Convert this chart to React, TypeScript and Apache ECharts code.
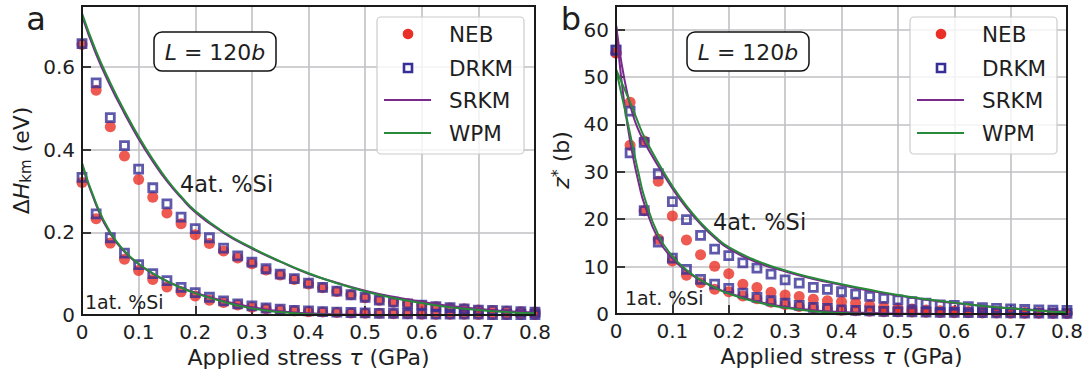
import React, { useEffect, useRef } from "react";
import * as echarts from "echarts";

// ---------- data ----------
const tau = [0, 0.025, 0.05, 0.075, 0.1, 0.125, 0.15, 0.175, 0.2, 0.225, 0.25, 0.275, 0.3, 0.325, 0.35, 0.375, 0.4,
  0.425, 0.45, 0.475, 0.5, 0.525, 0.55, 0.575, 0.6, 0.625, 0.65, 0.675, 0.7, 0.725, 0.75, 0.775, 0.8];

// panel a : ΔH_km (eV)
const nebA4 = [0.655, 0.544, 0.456, 0.385, 0.328, 0.285, 0.247, 0.221, 0.194, 0.173, 0.155, 0.138, 0.124, 0.109, 0.097, 0.086, 0.075,
  0.066, 0.057, 0.049, 0.042, 0.036, 0.031, 0.027, 0.023, 0.02, 0.017, 0.015, 0.012, 0.011, 0.009, 0.008, 0.007];
const drkmA4 = [0.657, 0.562, 0.478, 0.41, 0.353, 0.308, 0.269, 0.237, 0.209, 0.187, 0.162, 0.143, 0.128, 0.112, 0.099, 0.088, 0.077,
  0.067, 0.058, 0.049, 0.043, 0.036, 0.031, 0.027, 0.024, 0.02, 0.018, 0.015, 0.012, 0.011, 0.01, 0.008, 0.007];
const nebA1 = [0.321, 0.233, 0.174, 0.135, 0.108, 0.086, 0.068, 0.056, 0.046, 0.036, 0.03, 0.024, 0.019, 0.015, 0.012, 0.01, 0.008,
  0.007, 0.006, 0.005, 0.004, 0.004, 0.003, 0.003, 0.002, 0.002, 0.002, 0.002, 0.001, 0.001, 0.001, 0.001, 0.001];
const drkmA1 = [0.333, 0.245, 0.187, 0.15, 0.122, 0.1, 0.083, 0.067, 0.054, 0.043, 0.034, 0.027, 0.022, 0.017, 0.014, 0.011, 0.01,
  0.008, 0.007, 0.006, 0.005, 0.004, 0.004, 0.003, 0.003, 0.002, 0.002, 0.002, 0.002, 0.001, 0.001, 0.001, 0.001];

const tauLineA = [0, 0.025, 0.05, 0.075, 0.1, 0.125, 0.15, 0.175, 0.2, 0.25, 0.3, 0.35, 0.4, 0.45, 0.5, 0.55, 0.6, 0.65, 0.7, 0.75, 0.8];
const wpmA4 = [0.73, 0.638, 0.562, 0.494, 0.432, 0.377, 0.328, 0.287, 0.252, 0.201, 0.163, 0.13, 0.101, 0.077, 0.057, 0.041, 0.029, 0.019, 0.012, 0.007, 0.004];
const srkmA4 = [0.724, 0.631, 0.555, 0.488, 0.426, 0.372, 0.324, 0.284, 0.249, 0.199, 0.161, 0.129, 0.1, 0.078, 0.059, 0.044, 0.032, 0.022, 0.015, 0.009, 0.006];
const wpmA1 = [0.368, 0.27, 0.2, 0.155, 0.124, 0.101, 0.082, 0.066, 0.053, 0.032, 0.016, 0.007, 0.002, 0.0005, 0, 0, 0, 0, 0, 0, 0];
const srkmA1 = [0.365, 0.266, 0.197, 0.153, 0.123, 0.1, 0.082, 0.067, 0.054, 0.034, 0.019, 0.009, 0.004, 0.0015, 0.0005, 0, 0, 0, 0, 0, 0];

// panel b : z* (b)
const nebB4 = [55.1, 44.7, 36.5, 28.0, 20.7, 15.6, 12.5, 10.1, 8.5, 6.3, 5.6, 4.6, 4.0, 3.7, 3.1, 2.8, 2.6,
  2.3, 1.8, 1.5, 1.2, 1.06, 0.85, 0.7, 0.65, 0.55, 0.45, 0.4, 0.35, 0.3, 0.25, 0.22, 0.2];
const drkmB4 = [55.7, 42.8, 36.2, 29.6, 23.7, 19.9, 16.6, 13.7, 12.3, 10.8, 9.7, 8.4, 7.2, 6.5, 5.6, 5.2, 4.7,
  4.2, 3.7, 3.3, 3.0, 2.6, 2.3, 1.9, 1.8, 1.55, 1.35, 1.2, 1.05, 0.95, 0.85, 0.8, 0.75];
const nebB1 = [55.1, 35.6, 21.8, 15.8, 11.2, 8.2, 6.6, 5.2, 4.7, 3.8, 3.2, 2.5, 2.0, 1.6, 1.3, 1.1, 0.8,
  0.7, 0.6, 0.5, 0.45, 0.4, 0.35, 0.3, 0.28, 0.25, 0.22, 0.2, 0.18, 0.16, 0.15, 0.14, 0.13];
const drkmB1 = [55.7, 34.0, 21.8, 15.2, 11.8, 9.4, 7.3, 6.3, 5.4, 4.4, 3.5, 2.8, 2.3, 1.8, 1.4, 1.2, 0.85,
  0.75, 0.65, 0.55, 0.5, 0.45, 0.4, 0.35, 0.33, 0.3, 0.27, 0.25, 0.22, 0.2, 0.18, 0.16, 0.15];

const tauLineB = [0, 0.01, 0.02, 0.03, 0.04, 0.05, 0.075, 0.1, 0.125, 0.15, 0.175, 0.2, 0.25, 0.3, 0.35, 0.4, 0.45, 0.5, 0.55, 0.6, 0.65, 0.7, 0.75, 0.8];
const wpmB4 = [51.6, 48.9, 46.1, 43.2, 40.2, 37.4, 31.9, 27.0, 22.8, 19.3, 16.4, 14.1, 11.2, 9.2, 7.6, 6.3, 5.1, 4.0, 3.1, 2.4, 1.7, 1.2, 0.7, 0.35];
const srkmB4 = [61.0, 52.8, 46.6, 42.0, 38.8, 36.3, 31.2, 26.5, 22.4, 19.0, 16.1, 13.8, 10.9, 9.0, 7.4, 6.1, 4.9, 3.9, 3.0, 2.3, 1.7, 1.2, 0.8, 0.5];
const wpmB1 = [51.6, 46.2, 40.8, 35.2, 29.7, 24.8, 16.7, 12.2, 9.3, 7.2, 5.6, 4.3, 2.5, 1.3, 0.6, 0.2, 0.05, 0, 0, 0, 0, 0, 0, 0];
const srkmB1 = [61.0, 49.0, 40.2, 33.3, 27.8, 23.3, 15.8, 11.7, 9.1, 7.1, 5.6, 4.4, 2.7, 1.5, 0.8, 0.4, 0.2, 0.1, 0.05, 0, 0, 0, 0, 0];

const legendNames = ["NEB", "DRKM", "SRKM", "WPM"];
const xTitle = "Applied stress";

// ---------- style ----------
const FONT = "'DejaVu Sans', 'Liberation Sans', sans-serif";
const TXT = "#1e1e1e";
const RED = "#ea2f27";
const BLUE = "#372f96";
const PURPLE = "#7a2a8c";
const GREEN = "#278a3a";
const GRIDC = "#c0c0c4";

const G0 = { left: 82, top: 6, width: 453, height: 309 };
const G1 = { left: 616, top: 6, width: 451, height: 308 };

const pairs = (xs: number[], ys: number[]) => xs.map((x, i) => [x, ys[i]]);

function scatterNeb(name: string, g: number, ys: number[]) {
  return {
    type: "scatter", name, xAxisIndex: g, yAxisIndex: g, data: pairs(tau, ys),
    symbol: "circle", symbolSize: 11, itemStyle: { color: RED }, z: 2,
  };
}
function scatterDrkm(name: string, g: number, ys: number[]) {
  return {
    type: "scatter", name, xAxisIndex: g, yAxisIndex: g, data: pairs(tau, ys),
    symbol: "rect", symbolSize: 8, itemStyle: { color: "rgba(0,0,0,0)", borderColor: BLUE, borderWidth: 2.8 }, z: 3,
  };
}
function line(name: string, g: number, xs: number[], ys: number[], color: string, z: number) {
  return {
    type: "line", name, xAxisIndex: g, yAxisIndex: g, data: pairs(xs, ys),
    showSymbol: false, smooth: 0.5,
    lineStyle: { color, width: 2 }, z,
  };
}

const axisLabelBase = { color: TXT, fontSize: 20, fontFamily: FONT, margin: 7 };

function xAxis(g: number) {
  return {
    type: "value", gridIndex: g, min: 0, max: 0.8, interval: 0.1,
    axisLine: { show: false },
    axisTick: { show: true, inside: true, length: 9, lineStyle: { color: "#111", width: 1.6 } },
    splitLine: { show: true, lineStyle: { color: GRIDC, width: 1.6 } },
    axisLabel: { ...axisLabelBase, formatter: (v: number) => (v === 0 ? "0" : v.toFixed(1)) },
    name: `{n|${xTitle} }{i|τ}{n| (GPa)}`,
    nameLocation: "middle", nameGap: 30,
    nameTextStyle: {
      color: TXT, fontFamily: FONT, fontSize: 22,
      rich: { n: { fontSize: 22, fontFamily: FONT, color: TXT }, i: { fontSize: 22, fontFamily: FONT, fontStyle: "italic", color: TXT } },
    },
  };
}

function Text(x: number, y: number, text: string, size: number, align = "left", rich?: any) {
  return {
    type: "text", x, y, z: 50,
    style: {
      text, fill: TXT, font: `${size}px ${FONT}`, fontSize: size, fontFamily: FONT,
      textAlign: align, textVerticalAlign: "middle", rich,
    },
  };
}

function lBox(cx: number) {
  const rich = {
    i: { fontSize: 22, fontFamily: FONT, fontStyle: "italic", fill: TXT, color: TXT },
    n: { fontSize: 22, fontFamily: FONT, fill: TXT, color: TXT },
  };
  return [
    { type: "rect", z: 49, shape: { x: cx - 61, y: 32, width: 122, height: 39, r: 8 }, style: { fill: "#fff", stroke: "#111", lineWidth: 1.5 } },
    Text(cx, 52, "{i|L}{n| = 120}{i|b}", 22, "center", rich),
  ];
}

function legendBox(x0: number) {
  const ys = [34, 68, 100, 133];
  const els: any[] = [
    { type: "rect", z: 60, shape: { x: x0, y: 17, width: 147, height: 137, r: 4 }, style: { fill: "rgba(255,255,255,0.8)", stroke: "#cccccc", lineWidth: 1.2 } },
    { type: "circle", z: 61, shape: { cx: x0 + 31, cy: ys[0], r: 5.3 }, style: { fill: RED } },
    { type: "rect", z: 61, shape: { x: x0 + 27, y: ys[1] - 4, width: 8, height: 8 }, style: { fill: "none", stroke: BLUE, lineWidth: 2.6 } },
    { type: "line", z: 61, shape: { x1: x0 + 7, y1: ys[2], x2: x0 + 54, y2: ys[2] }, style: { stroke: PURPLE, lineWidth: 2 } },
    { type: "line", z: 61, shape: { x1: x0 + 7, y1: ys[3], x2: x0 + 54, y2: ys[3] }, style: { stroke: GREEN, lineWidth: 2 } },
  ];
  legendNames.forEach((n, i) => {
    const t: any = Text(x0 + 72, ys[i], n, 21.5, "left");
    t.z = 62;
    els.push(t);
  });
  return els;
}

function border(g: typeof G0) {
  return { type: "rect", z: 70, shape: { x: g.left, y: g.top, width: g.width, height: g.height }, style: { fill: "none", stroke: "#1a1a1a", lineWidth: 2 } };
}

export default function App() {
  const ref = useRef<HTMLDivElement>(null);
  useEffect(() => {
    document.body.style.margin = "0";
    const chart = echarts.init(ref.current!, null, { renderer: "svg" });
    const yNameRich = {
      n: { fontSize: 22, fontFamily: FONT, color: TXT },
      i: { fontSize: 22, fontFamily: FONT, fontStyle: "italic", color: TXT },
      s: { fontSize: 15, fontFamily: FONT, color: TXT, verticalAlign: "bottom", padding: [9, 0, 0, 0] },
      sup: { fontSize: 16, fontFamily: FONT, color: TXT, verticalAlign: "top", padding: [0, 0, 8, 0] },
    };
    const option: any = {
      animation: false,
      backgroundColor: "#ffffff",
      grid: [
        { ...G0, containLabel: false },
        { ...G1, containLabel: false },
      ],
      xAxis: [xAxis(0), xAxis(1)],
      yAxis: [
        {
          type: "value", gridIndex: 0, min: 0, max: 0.748, interval: 0.2,
          axisLine: { show: false },
          axisTick: { show: true, inside: true, length: 9, lineStyle: { color: "#111", width: 1.6 } },
          splitLine: { show: true, lineStyle: { color: GRIDC, width: 1.6 } },
          axisLabel: { ...axisLabelBase, showMaxLabel: false, formatter: (v: number) => (v === 0 ? "0" : v.toFixed(1)) },
          name: "{n|Δ}{i|H}{s|km}{n| (eV)}", nameLocation: "middle", nameGap: 49,
          nameTextStyle: { color: TXT, fontFamily: FONT, fontSize: 22, rich: yNameRich },
        },
        {
          type: "value", gridIndex: 1, min: 0, max: 65, interval: 10,
          axisLine: { show: false },
          axisTick: { show: true, inside: true, length: 9, lineStyle: { color: "#111", width: 1.6 } },
          splitLine: { show: true, lineStyle: { color: GRIDC, width: 1.6 } },
          axisLabel: { ...axisLabelBase, showMaxLabel: false },
          name: "{i|z}{sup|*}{n| (b)}", nameLocation: "middle", nameGap: 43,
          nameTextStyle: { color: TXT, fontFamily: FONT, fontSize: 22, rich: yNameRich },
        },
      ],
      series: [
        scatterNeb("NEB 4at", 0, nebA4),
        scatterNeb("NEB 1at", 0, nebA1),
        scatterDrkm("DRKM 4at", 0, drkmA4),
        scatterDrkm("DRKM 1at", 0, drkmA1),
        line("SRKM 4at", 0, tauLineA, srkmA4, PURPLE, 4),
        line("SRKM 1at", 0, tauLineA, srkmA1, PURPLE, 4),
        line("WPM 4at", 0, tauLineA, wpmA4, GREEN, 5),
        line("WPM 1at", 0, tauLineA, wpmA1, GREEN, 5),
        scatterNeb("NEB 4at b", 1, nebB4),
        scatterNeb("NEB 1at b", 1, nebB1),
        scatterDrkm("DRKM 4at b", 1, drkmB4),
        scatterDrkm("DRKM 1at b", 1, drkmB1),
        line("SRKM 4at b", 1, tauLineB, srkmB4, PURPLE, 4),
        line("SRKM 1at b", 1, tauLineB, srkmB1, PURPLE, 4),
        line("WPM 4at b", 1, tauLineB, wpmB4, GREEN, 5),
        line("WPM 1at b", 1, tauLineB, wpmB1, GREEN, 5),
      ],
      graphic: [
        border(G0),
        border(G1),
        Text(36, 19, "a", 32, "center"),
        Text(571, 19, "b", 32, "center"),
        ...lBox(215),
        ...lBox(748),
        Text(180, 184, "4at. %Si", 22.5, "left"),
        Text(713, 222, "4at. %Si", 22.5, "left"),
        Text(85, 302, "1at. %Si", 19, "left"),
        Text(625, 298, "1at. %Si", 19, "left"),
        ...legendBox(377),
        ...legendBox(910),
      ],
    };
    chart.setOption(option);
    return () => chart.dispose();
  }, []);
  return <div ref={ref} style={{ width: 1089, height: 380 }} />;
}
